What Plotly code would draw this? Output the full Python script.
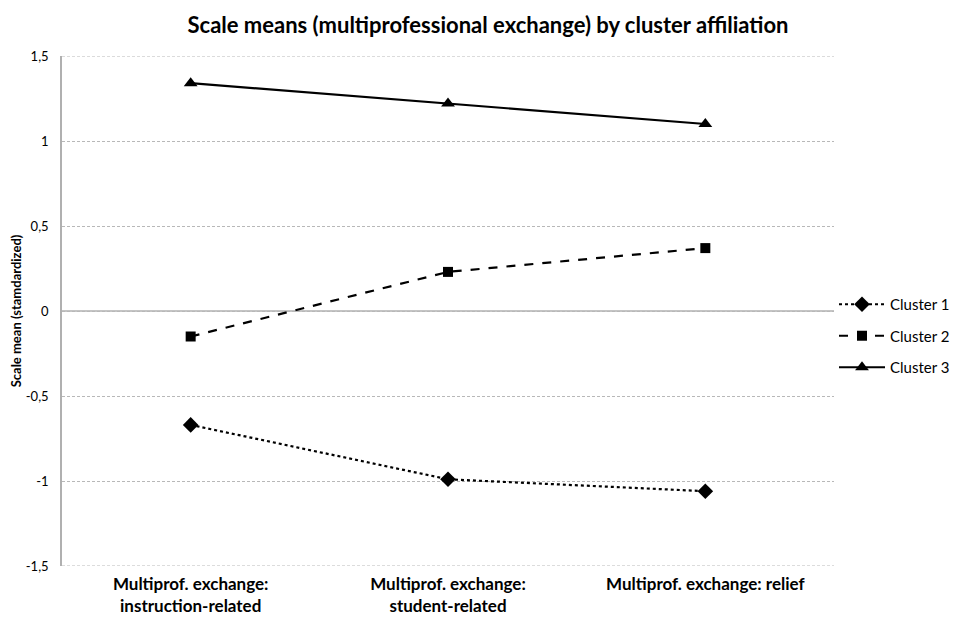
import plotly.graph_objects as go

categories = ["Multiprof. exchange:<br>instruction-related",
              "Multiprof. exchange:<br>student-related",
              "Multiprof. exchange: relief"]
series_names = ["Cluster 1", "Cluster 2", "Cluster 3"]
cluster1 = [-0.67, -0.99, -1.06]
cluster2 = [-0.15, 0.23, 0.37]
cluster3 = [1.34, 1.22, 1.10]
y_ticks = [-1.5, -1, -0.5, 0, 0.5, 1, 1.5]
y_tick_labels = ["-1,5", "-1", "-0,5", "0", "0,5", "1", "1,5"]

FONT = "Lato, Open Sans, Arial, sans-serif"

styles = [
    dict(dash="dot", symbol="diamond", size=12),
    dict(dash="dash", symbol="square", size=10),
    dict(dash="solid", symbol="triangle-up", size=12),
]

fig = go.Figure()
for i, (name, vals, st) in enumerate(zip(series_names, [cluster1, cluster2, cluster3], styles)):
    fig.add_trace(go.Scatter(
        x=list(range(len(categories))), y=vals, name=name,
        mode="lines+markers", legendgroup=f"g{i}",
        line=dict(color="black", width=2.2, dash=st["dash"]),
        marker=dict(symbol=st["symbol"], size=st["size"], color="black"),
    ))

# dashed boundary gridlines at the range edges
for yv in [y_ticks[0], y_ticks[-1]]:
    fig.add_hline(y=yv, line=dict(color="#b8b8b8", width=1, dash="3px,2px"), layer="below")
fig.add_hline(y=0, line=dict(color="#b0b0b0", width=1.5), layer="below")

fig.update_layout(
    width=960, height=619,
    margin=dict(l=54, r=134, t=48, b=61),
    paper_bgcolor="white", plot_bgcolor="white",
    title=dict(text="<b>Scale means (multiprofessional exchange) by cluster affiliation</b>",
               x=0.5, xanchor="center", y=1 - 17 / 619, yanchor="middle",
               font=dict(family=FONT, size=22, color="black")),
    font=dict(family=FONT, color="black"),
    legend=dict(x=1.0, xanchor="left", y=0.451, yanchor="middle",
                font=dict(family=FONT, size=15, color="black"),
                tracegroupgap=9, itemwidth=46),
    showlegend=True,
)
fig.update_xaxes(
    range=[-0.5, 2.5], tickmode="array",
    tickvals=list(range(len(categories))),
    ticktext=["<b>" + c.replace("<br>", "</b><br><b>") + "</b>" for c in categories],
    tickfont=dict(family=FONT, size=17, color="black"),
    showgrid=False, zeroline=False, showline=False, ticks="",
    ticklabelstandoff=6, automargin=False,
)
fig.update_yaxes(
    range=[-1.5, 1.5], tickmode="array", tickvals=y_ticks, ticktext=y_tick_labels,
    tickfont=dict(family=FONT, size=13, color="black"),
    showgrid=True, gridcolor="#b8b8b8", griddash="3px,2px", gridwidth=1,
    zeroline=False, showline=True, linecolor="#b0b0b0", linewidth=1.5,
    ticks="", ticklen=0, ticklabelstandoff=9, automargin=False,
    title=dict(text="<b>Scale mean (stamdardized)</b>",
               font=dict(family=FONT, size=13, color="black"), standoff=1),
)

fig.write_html("out.html")
